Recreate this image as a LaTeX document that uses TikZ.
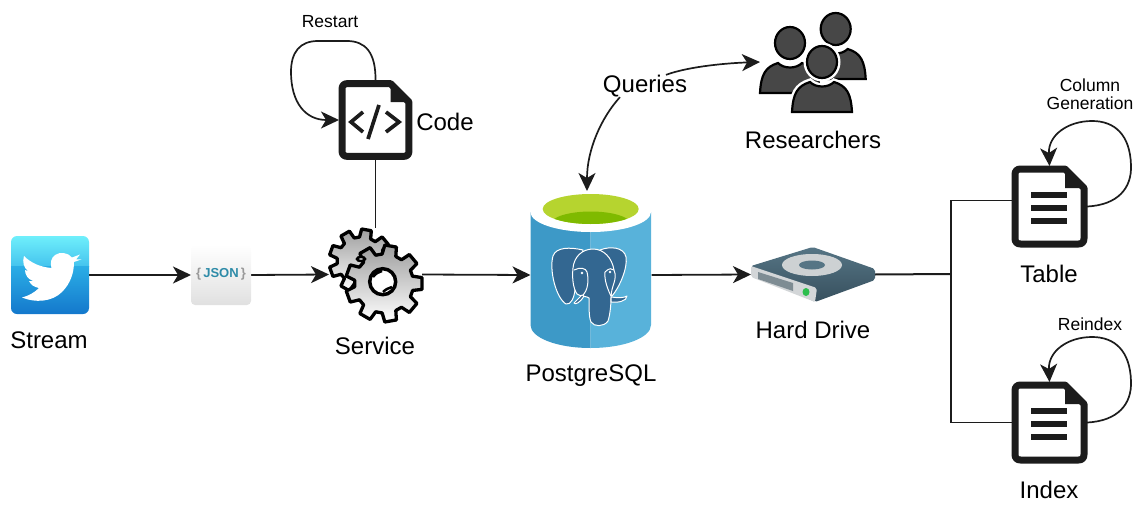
\documentclass[tikz,border=0pt]{standalone}
\usepackage{fontspec}
\setmainfont{Liberation Sans}
\usetikzlibrary{arrows.meta}
\definecolor{ink}{HTML}{1C1C1C}
\definecolor{pgblue}{HTML}{336791}
\definecolor{cylL}{HTML}{3D99C7}
\definecolor{cylR}{HTML}{58B2DA}
\definecolor{limeA}{HTML}{B6D42F}
\definecolor{limeB}{HTML}{7FBA00}
\definecolor{twA}{HTML}{6FEFFB}
\definecolor{twB}{HTML}{45C4EE}
\definecolor{twC}{HTML}{2BAEE6}
\definecolor{twD}{HTML}{1478CC}
\definecolor{jsonteal}{HTML}{2E8BA8}
\definecolor{hdA}{HTML}{567585}
\definecolor{hdB}{HTML}{37505E}
\definecolor{hdFront}{HTML}{D3D6D8}
\definecolor{hdSlot}{HTML}{7E8C93}
\definecolor{hdRing}{HTML}{CDD1D3}
\definecolor{hdLed}{HTML}{2DBE4E}
\newcommand{\fs}[1]{\fontsize{#1}{#1}\selectfont}
\tikzset{
  x=1pt,y=-1pt,
  iconbox/.style={inner sep=0pt,outer sep=0pt,minimum width=#1},
  biglabel/.style={inner sep=0pt,font=\fs{24}},
  smalllabel/.style={inner sep=0pt,font=\fs{17.5},align=center},
  flow/.style={line width=1.8pt,draw=ink,-{Stealth[length=18pt,width=17pt,inset=5pt]}},
  loopline/.style={line width=1.7pt,draw=ink,-{Stealth[length=18pt,width=17pt,inset=5pt]}},
  plain/.style={line width=1.7pt,draw=ink},
  eleph/.style={fill=pgblue,draw=white,line width=1pt,line join=round},
  persona/.style={fill=white,draw=white,line width=7pt},
  personb/.style={fill=black!72,draw=black,line width=2.2pt},
  docframe/.pic={
    \draw[line width=7pt,draw=ink,fill=white,line join=round]
      (-34.5,-32) .. controls (-34.5,-35.5) and (-32.5,-37.5) .. (-29,-37.5)
      -- (15.5,-37.5) -- (34.5,-18.5) -- (34.5,32)
      .. controls (34.5,35.5) and (32.5,37.5) .. (29,37.5) -- (-29,37.5)
      .. controls (-32.5,37.5) and (-34.5,35.5) .. (-34.5,32) -- cycle;
    \fill[ink] (15.5,-37.5) -- (34.5,-18.5) -- (15.5,-18.5) -- cycle;
  },
  doclines/.pic={
    \fill[ink] (-18.5,-14.5) rectangle (17.5,-8.5);
    \fill[ink] (-18.5,-2) rectangle (17.5,4);
    \fill[ink] (-18.5,11.5) rectangle (17.5,17.5);
  },
  personpic/.pic={
    \path[persona] (-30,50) .. controls (-29,32) and (-25,24) .. (-12,20) .. controls (-6,26) and (6,26) .. (12,20) .. controls (25,24) and (29,32) .. (30,50) -- cycle;
    \path[persona] (0,0) ellipse[x radius=15,y radius=16];
    \path[personb] (-30,50) .. controls (-29,32) and (-25,24) .. (-12,20) .. controls (-6,26) and (6,26) .. (12,20) .. controls (25,24) and (29,32) .. (30,50) -- cycle;
    \path[personb] (0,0) ellipse[x radius=15,y radius=16];
  }
}
\newcommand{\gearshape}[5]{% cx cy ro ri n
  \begin{scope}[shift={(#1,#2)}]
  \pgfmathsetmacro{\gs}{360/#5}
  \draw[line width=3.3pt,draw=black,line join=round,top color=black!38,bottom color=white]
    ({-0.36*\gs}:#4)
    \foreach \k in {1,...,#5}{
      -- ({(\k-1)*\gs-0.22*\gs}:#3) -- ({(\k-1)*\gs+0.22*\gs}:#3)
      -- ({(\k-1)*\gs+0.34*\gs}:#4) -- ({\k*\gs-0.34*\gs}:#4)
    } -- cycle;
  \end{scope}
}
\begin{document}
\begin{tikzpicture}
\useasboundingbox (0,0) rectangle (1136,506);
% --- anchor nodes for the icons
\node[iconbox=78pt,minimum height=78pt] (twitter) at (50,275) {};
\node[iconbox=60pt,minimum height=60pt] (json) at (221,275) {};
\node[iconbox=93pt,minimum height=93pt] (gear) at (375.5,274.5) {};
\node[iconbox=73pt,minimum height=78pt] (code) at (375.5,120) {};
\node[iconbox=121pt,minimum height=156pt] (pg) at (591,275) {};
\node[iconbox=124pt,minimum height=55pt] (hd) at (813,274.5) {};
\node[iconbox=106pt,minimum height=100pt] (people) at (813,62) {};
\node[iconbox=75pt,minimum height=81pt] (table) at (1049.5,206.5) {};
\node[iconbox=75pt,minimum height=81pt] (index) at (1049.5,422.5) {};
\coordinate (junction) at (951,274);
% --- labels
\node[biglabel] (lstream) at (49,340) {Stream};
\node[biglabel] (lservice) at (375,346) {Service};
\node[biglabel] (lcode) at (445,122) {Code};
\node[biglabel] (lpg) at (591,376) {PostgreSQL};
\node[biglabel] (lhd) at (813,330) {Hard Drive};
\node[biglabel] (lres) at (813,140) {Researchers};
\node[biglabel] (queries) at (645,86) {Queries};
\node[biglabel] (ltable) at (1049,274) {Table};
\node[biglabel] (lindex) at (1049,490) {Index};
\node[smalllabel] (lrestart) at (330,22) {Restart};
\node[smalllabel] (lcolumn) at (1090,94) {Column\\Generation};
\node[smalllabel] (lreindex) at (1090,324) {Reindex};
% --- connectors
\draw[flow] (twitter.east) -- (json.west);
\draw[flow] (json.east) -- (gear.west);
\draw[flow] (gear.east) -- (pg.west);
\draw[flow] (pg.east) -- (hd.west);
\draw[plain] (code.south) -- (gear.north);
\draw[line width=2pt,draw=ink] (hd.east) -- (junction);
\draw[plain] (junction) |- (table.171);
\draw[plain] (junction) |- (index.west);
\draw[loopline] (code.north) .. controls (376,52) and (365,41) .. (347,41)
  -- (318,41) .. controls (300,41) and (291,52) .. (291,72)
  .. controls (291,102) and (305,120) .. (code.west);
\draw[loopline] (queries.204) .. controls (601,118) and (587,150) .. (587,191);
\draw[loopline] (queries.28) .. controls (690,66) and (730,63) .. (people.west);
\draw[loopline] (table.east) .. controls (1118,205) and (1132,188) .. (1131,165)
  .. controls (1130,135) and (1115,121) .. (1092,121)
  .. controls (1068,121) and (1048,135) .. (table.north);
\draw[loopline] (index.east) .. controls (1118,421) and (1132,404) .. (1131,381)
  .. controls (1130,351) and (1115,337) .. (1092,337)
  .. controls (1068,337) and (1048,351) .. (index.north);
% --- twitter icon
\begin{scope}
  \clip[rounded corners=6pt] (11,236) rectangle (89,314);
  \shade[top color=twA,bottom color=twB] (11,236) rectangle (89,266);
  \shade[top color=twC,bottom color=twD] (11,266) rectangle (89,314);
\end{scope}
\fill[white] (22,297.5) .. controls (35,303) and (52,302) .. (62,292)
  .. controls (71,283) and (74,272) .. (74,262) -- (81.7,259.3) -- (76,259.5) -- (80,254.5) -- (72,257.5)
  .. controls (68,252.5) and (60,251.5) .. (55,255)
  .. controls (51,258) and (50,263) .. (51.5,268)
  .. controls (40,267) and (31,263) .. (24,256)
  .. controls (22,262) and (24,268) .. (28,271) -- (25,270)
  .. controls (25,275) and (28,279) .. (33,281) -- (29,281)
  .. controls (31,285) and (34,287) .. (39,288)
  .. controls (34,293) and (28,296) .. (22,297.5) -- cycle;
% --- json icon
\shade[rounded corners=4pt,top color=white,bottom color=black!12] (191,245) rectangle (251,305);
\node[inner sep=0pt,font=\fs{13}\bfseries] (jsontext) at (221,274.5) {\textcolor{black!40}{\{}\,\textcolor{jsonteal}{JSON}\,\textcolor{black!40}{\}}};
% --- gears
\gearshape{361}{261}{32}{24}{9}
\gearshape{384}{283.5}{38.5}{29.5}{9}
\draw[line width=3.5pt,black,fill=white] (382.7,281.7) circle[radius=13];
\draw[line width=2.5pt,black] (373,277) .. controls (376,273) and (379,272) .. (382,271);
\draw[line width=2.5pt,black] (383,292) .. controls (386,289) and (389,288) .. (392,287);
\draw[line width=2.5pt,black,fill=white] (361,259) ellipse[x radius=4,y radius=2];
% --- code icon
\path (code.center) pic[scale=0.97] {docframe};
\draw[line width=3.7pt,draw=ink,line join=miter] (363,112) -- (351,122) -- (363,132);
\draw[line width=3.7pt,draw=ink] (379,105) -- (368,139);
\draw[line width=3.7pt,draw=ink,line join=miter] (386,112) -- (399,122) -- (386,132);
% --- table and index
\path (table.center) pic {docframe};
\path (table.center) pic {doclines};
\path (index.center) pic {docframe};
\path (index.center) pic {doclines};
% --- PostgreSQL cylinder
\fill[cylL] (530.5,212) -- (530.5,325) .. controls (530.5,337.7) and (557,348) .. (590.5,348) -- (590.5,212) -- cycle;
\fill[cylR] (590.5,212) -- (590.5,348) .. controls (624,348) and (651,337.7) .. (651,325) -- (651,212) -- cycle;
\fill[white] (590.7,212) ellipse[x radius=60.3,y radius=20];
\fill[limeA] (590.7,209) ellipse[x radius=48,y radius=15];
\begin{scope}
  \clip (590.7,209) ellipse[x radius=48,y radius=15];
  \fill[limeB] (590.7,224) ellipse[x radius=40,y radius=12.5];
\end{scope}
% --- elephant
\draw[eleph] (583,250) .. controls (570,247) and (556,247) .. (553,256)
  .. controls (549,270) and (556,298) .. (566,304)
  .. controls (571,305) and (574,298) .. (575,290) -- cycle;
\draw[eleph] (600,250) .. controls (610,246) and (624,247) .. (626,257)
  .. controls (628,268) and (619,288) .. (612,296) -- (600,280) -- cycle;
\draw[eleph] (593,249) .. controls (582,249) and (574,257) .. (573,268)
  .. controls (572,278) and (573,288) .. (577,294)
  .. controls (581,297) and (587,296) .. (589,298)
  .. controls (589,308) and (589,318) .. (591,322)
  .. controls (594,327) and (604,327) .. (608,321)
  .. controls (610,315) and (611,305) .. (611,298)
  .. controls (611,285) and (618,280) .. (614,270)
  .. controls (612,258) and (604,249) .. (593,249) -- cycle;
\draw[eleph] (584,296) .. controls (580,303) and (575,305) .. (574,303)
  .. controls (577,300) and (579,298) .. (582,295) -- cycle;
\draw[eleph] (611,297) .. controls (618,298) and (624,298) .. (627,296)
  .. controls (627,301) and (618,303) .. (611,302) -- cycle;
\draw[white,line width=1pt] (574,270) .. controls (580,267) and (586,268) .. (587,272)
  .. controls (589,280) and (588,290) .. (583,295);
\draw[white,line width=1pt] (605,272) .. controls (609,268) and (612,268) .. (614,270);
\draw[white,line width=1pt] (605,272) .. controls (604,280) and (608,290) .. (611,296);
\fill[white] (582,273) circle[radius=1.3];
\fill[white] (610,272) circle[radius=1.3];
% --- hard drive
\shade[top color=hdA,bottom color=hdB,rounded corners=2pt]
  (812.7,247) -- (875,269) -- (875,280) -- (815,302) -- (751,266) -- cycle;
\fill[hdFront,rounded corners=2pt] (751,266) -- (817,288) -- (815,302) -- (751,277) -- cycle;
\fill[hdSlot] (758,272) -- (793,283) -- (793,291) -- (758,279) -- cycle;
\fill[hdLed] (806,292) ellipse[x radius=3.5,y radius=4];
\fill[hdRing] (812,265) ellipse[x radius=30,y radius=11];
\fill[hdA] (812,265) ellipse[x radius=13,y radius=4.5];
% --- researchers
\path (835.7,29) pic {personpic};
\path (790,43) pic {personpic};
\path (822,62) pic {personpic};
\end{tikzpicture}
\end{document}
